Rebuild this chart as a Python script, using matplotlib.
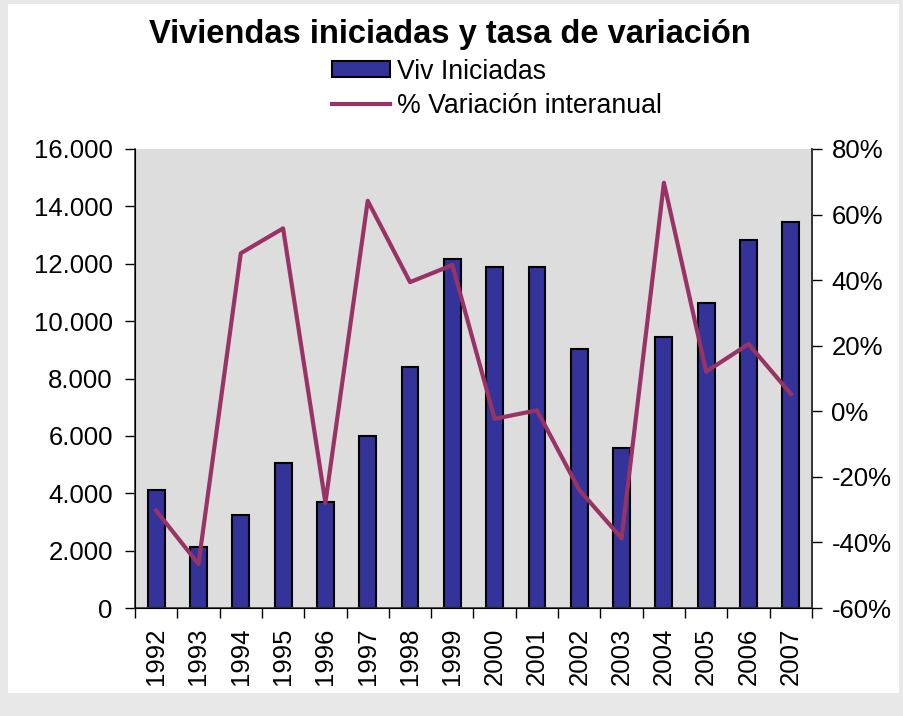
import matplotlib.pyplot as plt
from matplotlib.patches import Rectangle
from matplotlib.ticker import FuncFormatter, FixedLocator

plt.rcParams['font.family'] = ['Liberation Sans', 'DejaVu Sans']

years = ['1992', '1993', '1994', '1995', '1996', '1997', '1998', '1999',
         '2000', '2001', '2002', '2003', '2004', '2005', '2006', '2007']
viv_iniciadas = [4120, 2140, 3250, 5050, 3690, 6000, 8400, 12150,
                 11870, 11870, 9040, 5570, 9460, 10640, 12820, 13460]
variacion = [-30.3, -46.6, 48.2, 55.8, -27.9, 64.2, 39.4, 44.6,
             -2.3, 0.3, -24.0, -38.7, 69.7, 12.1, 20.5, 5.3]

fig = plt.figure(figsize=(9.04, 7.16), dpi=100)
fig.patch.set_facecolor('#e8e8e8')
fig.patches.append(Rectangle((8 / 904, 1 - 693 / 716), 891 / 904, 689 / 716,
                             transform=fig.transFigure, facecolor='white',
                             edgecolor='none', zorder=-10))

ax = fig.add_axes([135 / 904, 1 - 608 / 716, 677 / 904, 459 / 716])
ax.set_facecolor('#dddddd')
x = list(range(len(years)))
bars = ax.bar(x, viv_iniciadas, 0.4, color='#333399', edgecolor='black',
              linewidth=1.5, label='Viv Iniciadas', zorder=2)
ax.set_ylim(0, 16000)
ax.set_xlim(-0.5, len(years) - 0.5)
ax.set_yticks(range(0, 16001, 2000))
ax.yaxis.set_major_formatter(FuncFormatter(lambda v, p: f'{int(v):,}'.replace(',', '.')))
ax.set_xticks(x)
ax.set_xticklabels(years, rotation=90)
ax.xaxis.set_minor_locator(FixedLocator([i - 0.5 for i in range(len(years) + 1)]))
ax.tick_params(axis='x', which='major', length=0, pad=14, labelsize=18.5)
ax.tick_params(axis='x', which='minor', length=7, width=1)
ax.tick_params(axis='y', length=7, width=1, pad=9, labelsize=18.5)
ax.spines['top'].set_visible(False)
for s in ['left', 'bottom', 'right']:
    ax.spines[s].set_color('#333333')
    ax.spines[s].set_linewidth(1.2)

ax2 = ax.twinx()
line, = ax2.plot(x, variacion, color='#993366', linewidth=3,
                 label='% Variación interanual', zorder=3)
ax2.set_ylim(-60, 80)
ax2.set_yticks(range(-60, 81, 20))
ax2.yaxis.set_major_formatter(FuncFormatter(lambda v, p: f'{int(v)}%'))
ax2.tick_params(axis='y', length=7, width=1, pad=7, labelsize=18.5)
ax2.spines['top'].set_visible(False)
ax2.spines['right'].set_color('#333333')
ax2.spines['right'].set_linewidth(1.2)

fig.text(450 / 904, 1 - 35 / 716, 'Viviendas iniciadas y tasa de variación',
         ha='center', va='center', fontsize=23.5, fontweight='bold')

fig.legend([bars, line], ['Viv Iniciadas', '% Variación interanual'],
           loc='upper left', bbox_to_anchor=(321 / 904, 1 - 48 / 716),
           frameon=False, fontsize=19.2, handlelength=2.2, handleheight=0.55,
           handletextpad=0.25, labelspacing=0.32, borderaxespad=0)

fig.savefig('out.png', dpi=100, facecolor=fig.get_facecolor())
